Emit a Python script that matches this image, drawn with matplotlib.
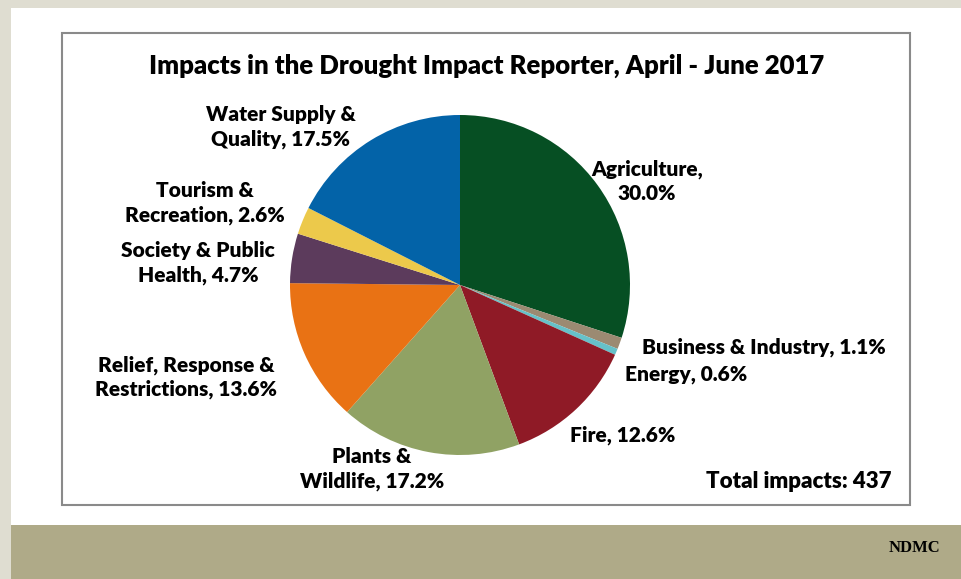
import matplotlib
matplotlib.use("Agg")
from matplotlib import pyplot as plt
from matplotlib.patches import Rectangle

# drought impact categories, April - June 2017
categories = ["Agriculture", "Business & Industry", "Energy", "Fire",
              "Plants & Wildlife", "Relief, Response & Restrictions",
              "Society & Public Health", "Tourism & Recreation",
              "Water Supply & Quality"]
shares = [30.0, 1.1, 0.6, 12.6, 17.2, 13.6, 4.7, 2.6, 17.5]
colors = ["#064f23", "#9b8a72", "#66c1c9", "#8f1a26", "#90a264",
          "#e97214", "#5c3b5c", "#ecc94b", "#0363a8"]
label_text = ["Agriculture,\n30.0%", "Business & Industry, 1.1%", "Energy, 0.6%",
              "Fire, 12.6%", "Plants &\nWildlife, 17.2%",
              "Relief, Response &\nRestrictions, 13.6%",
              "Society & Public\nHealth, 4.7%", "Tourism &\nRecreation, 2.6%",
              "Water Supply &\nQuality, 17.5%"]
# label centres in pixels (x, y from top)
label_pos = [(647, 181), (764, 347), (686, 374), (623, 435), (372, 469),
             (186, 377), (198, 263), (205, 203), (281, 127)]
total = 437

W, H = 962, 579
fig = plt.figure(figsize=(W/100, H/100), dpi=100)
fig.patch.set_facecolor("#dfddd1")
plt.rcParams['font.family'] = ['Lato', 'DejaVu Sans']

def px(x, y):
    return x/W, 1-y/H

bg = fig.add_axes([0, 0, 1, 1])
bg.set_xlim(0, W); bg.set_ylim(H, 0); bg.axis("off")
bg.add_patch(Rectangle((11, 8), W-11, 517, facecolor="white", edgecolor="none"))
bg.add_patch(Rectangle((11, 525), W-11, H-525, facecolor="#afaa88", edgecolor="none"))
bg.add_patch(Rectangle((62, 33), 848, 472, facecolor="white", edgecolor="#8a8a8a", linewidth=1.5))

cx, cy, r = 460, 285, 170
ax = fig.add_axes([(cx-r)/W, 1-(cy+r)/H, 2*r/W, 2*r/H])
ax.pie(shares, colors=colors, startangle=90, counterclock=False,
       wedgeprops=dict(linewidth=0))
ax.set_xlim(-1, 1); ax.set_ylim(-1, 1)

fig.text(*px(487, 66), "Impacts in the Drought Impact Reporter, April - June 2017",
         ha="center", va="center", fontsize=18.5, fontweight="heavy")
for t, (x, y) in zip(label_text, label_pos):
    fig.text(*px(x, y), t, ha="center", va="center", fontsize=15,
             fontweight="heavy", linespacing=1.3)
fig.text(*px(892, 482), "Total impacts: %d" % total, ha="right", va="center",
         fontsize=16, fontweight="heavy")
fig.text(*px(940, 548), "NDMC", ha="right", va="center", fontsize=12,
         fontweight="bold", family=["Liberation Serif", "DejaVu Serif"])

plt.savefig("out.png", dpi=100, facecolor=fig.get_facecolor())
